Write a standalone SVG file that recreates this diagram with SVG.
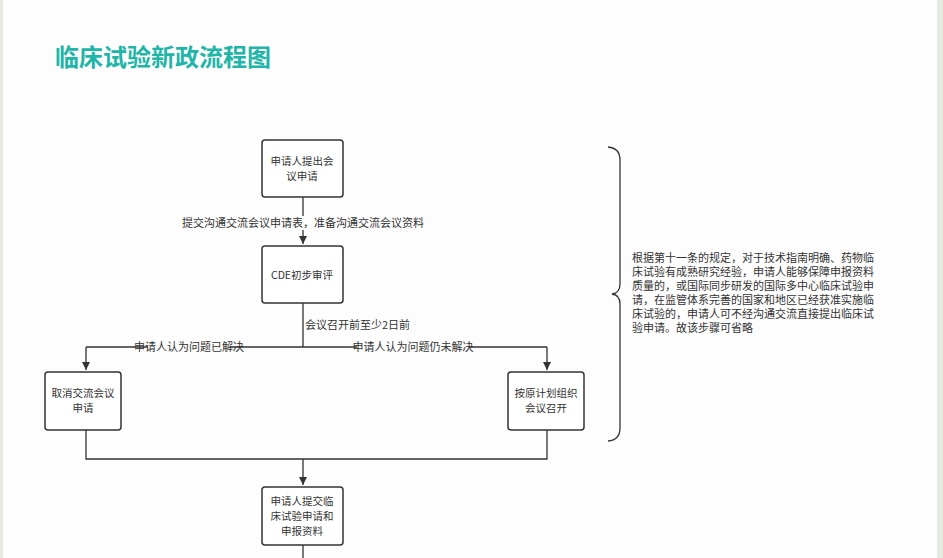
<svg xmlns="http://www.w3.org/2000/svg" width="943" height="558" viewBox="0 0 943 558">
<style>
.n rect{fill:#fff;stroke:#333;stroke-width:1.5}
text{font-family:"Noto Sans CJK SC","Liberation Sans",sans-serif;fill:#333;font-size:11px}
.n text{font-size:10.5px}
.c{text-anchor:middle}
.e path{fill:none;stroke:#333;stroke-width:1.3}
</style>
<defs><marker id="a" viewBox="0 0 10 10" refX="10" refY="5" markerWidth="8" markerHeight="10" orient="auto" markerUnits="userSpaceOnUse"><path d="M0,0L10,5L0,10z" fill="#333"/></marker></defs>
<rect width="943" height="558" fill="#fdfdfd"/>
<rect x="0" y="0" width="3" height="558" fill="#e6e9df"/>
<rect x="937" y="0" width="6" height="558" fill="#e6e9df"/>
<text x="55" y="66" style="font-size:24px;font-weight:bold;fill:#1fb5a8">临床试验新政流程图</text>
<g class="e" id="connectors">
<path d="M303,197V244" marker-end="url(#a)"/>
<path d="M303,303V347M86,347H547M86,347V370" marker-end="url(#a)"/>
<path d="M547,347V370" marker-end="url(#a)"/>
<path d="M86,430V459H547V430M303,459V485" marker-end="url(#a)"/>
<path d="M303,545V558"/>
<path d="M608,147Q620,148 620,160V284Q620,293 612,294Q620,295 620,304V428Q620,440 608,441"/>
</g>
<rect x="180" y="216" width="246" height="14" fill="#fdfdfd"/>
<text x="303" y="227" class="c">提交沟通交流会议申请表，准备沟通交流会议资料</text>
<text x="305" y="329">会议召开前至少2日前</text>
<rect x="148" y="341" width="82" height="13" fill="#fdfdfd"/>
<text x="189" y="351" class="c">申请人认为问题已解决</text>
<rect x="357" y="341" width="112" height="13" fill="#fdfdfd"/>
<text x="413" y="351" class="c">申请人认为问题仍未解决</text>
<g class="n" id="n1"><rect x="262" y="140" width="81" height="57" rx="3"/><text x="302" y="165" class="c">申请人提出会</text><text x="302" y="180" class="c">议申请</text></g>
<g class="n" id="n2"><rect x="262" y="246" width="81" height="57" rx="3"/><text x="302" y="279" class="c">CDE初步审评</text></g>
<g class="n" id="n3"><rect x="45" y="372" width="76" height="58" rx="3"/><text x="83" y="397" class="c">取消交流会议</text><text x="83" y="412" class="c">申请</text></g>
<g class="n" id="n4"><rect x="508" y="372" width="76" height="58" rx="3"/><text x="546" y="397" class="c">按原计划组织</text><text x="546" y="412" class="c">会议召开</text></g>
<g class="n" id="n5"><rect x="262" y="487" width="81" height="58" rx="3"/><text x="302" y="505" class="c">申请人提交临</text><text x="302" y="520" class="c">床试验申请和</text><text x="302" y="535" class="c">申报资料</text></g>
<g id="note" style="font-size:10.8px">
<text x="632" y="262">根据第十一条的规定，对于技术指南明确、药物临</text>
<text x="632" y="276">床试验有成熟研究经验，申请人能够保障申报资料</text>
<text x="632" y="290">质量的，或国际同步研发的国际多中心临床试验申</text>
<text x="632" y="304">请，在监管体系完善的国家和地区已经获准实施临</text>
<text x="632" y="318">床试验的，申请人可不经沟通交流直接提出临床试</text>
<text x="632" y="332">验申请。故该步骤可省略</text>
</g>
</svg>
